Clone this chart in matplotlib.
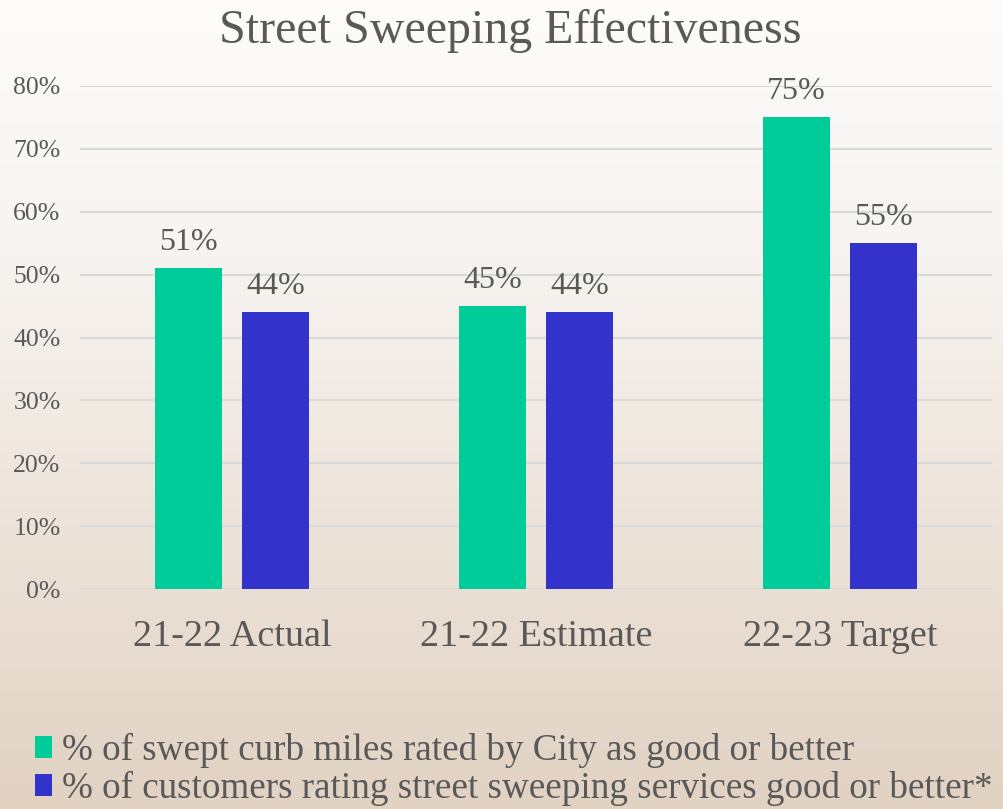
import matplotlib
matplotlib.use("Agg")
import matplotlib.pyplot as plt
import numpy as np
from matplotlib.patches import Patch
from matplotlib.colors import LinearSegmentedColormap

categories = ["21-22 Actual", "21-22 Estimate", "22-23 Target"]
series_names = ["% of swept curb miles rated by City as good or better",
                "% of customers rating street sweeping services good or better*"]
city_rated = [51, 45, 75]
customer_rated = [44, 44, 55]
yticks = [0, 10, 20, 30, 40, 50, 60, 70, 80]
title = "Street Sweeping Effectiveness"

GREEN = "#00CC99"
BLUE = "#3333CC"
TEXT = "#595959"

plt.rcParams['font.family'] = ['Liberation Serif', 'DejaVu Serif']

fig = plt.figure(figsize=(10.04, 8.09), dpi=100)

# background gradient
bg = fig.add_axes([0, 0, 1, 1], zorder=0)
cmap = LinearSegmentedColormap.from_list(
    "bg", [(0.0, "#E1D2C2"), (0.35, "#EDE3DA"), (0.7, "#F7F4F1"), (1.0, "#FDFCFB")])
grad = np.linspace(0, 1, 256).reshape(-1, 1)
bg.imshow(grad, aspect="auto", cmap=cmap, origin="lower", extent=[0, 1, 0, 1])
bg.axis("off")

ax = fig.add_axes([0.0797, 0.2719, 0.9084, 0.6218], zorder=1)
ax.set_facecolor("none")

x = np.arange(len(categories))
w = 0.222
off = 0.143
b1 = ax.bar(x - off, city_rated, w, color=GREEN, zorder=3)
b2 = ax.bar(x + off, customer_rated, w, color=BLUE, zorder=3)

for bars, vals in ((b1, city_rated), (b2, customer_rated)):
    for rect, v in zip(bars, vals):
        ax.annotate(f"{v}%", (rect.get_x() + rect.get_width() / 2, v),
                    xytext=(0, 8), textcoords="offset points",
                    ha="center", va="bottom", fontsize=23, color=TEXT)

ax.set_xlim(-0.5, 2.5)
ax.set_ylim(0, 80)
ax.set_yticks(yticks)
ax.set_yticklabels([f"{t}%" for t in yticks], fontsize=18.5, color=TEXT)
ax.set_xticks(x)
ax.set_xticklabels(categories, fontsize=27.5, color=TEXT)
ax.tick_params(axis="both", length=0)
ax.tick_params(axis="y", pad=14)
ax.tick_params(axis="x", pad=22)
ax.grid(axis="y", color="#D9D9D9", linewidth=1.5, zorder=0)
for s in ax.spines.values():
    s.set_visible(False)

fig.text(0.508, 0.962, title, ha="center", va="center", fontsize=34.5, color=TEXT)

handles = [Patch(facecolor=GREEN), Patch(facecolor=BLUE)]
fig.legend(handles, series_names, loc="upper left", bbox_to_anchor=(0.035, 0.094),
           frameon=False, fontsize=26.7, labelcolor=TEXT, handlelength=0.46,
           handleheight=0.55, handletextpad=0.27, labelspacing=0.08, borderpad=0,
           borderaxespad=0)

fig.savefig("out.png", dpi=100)
